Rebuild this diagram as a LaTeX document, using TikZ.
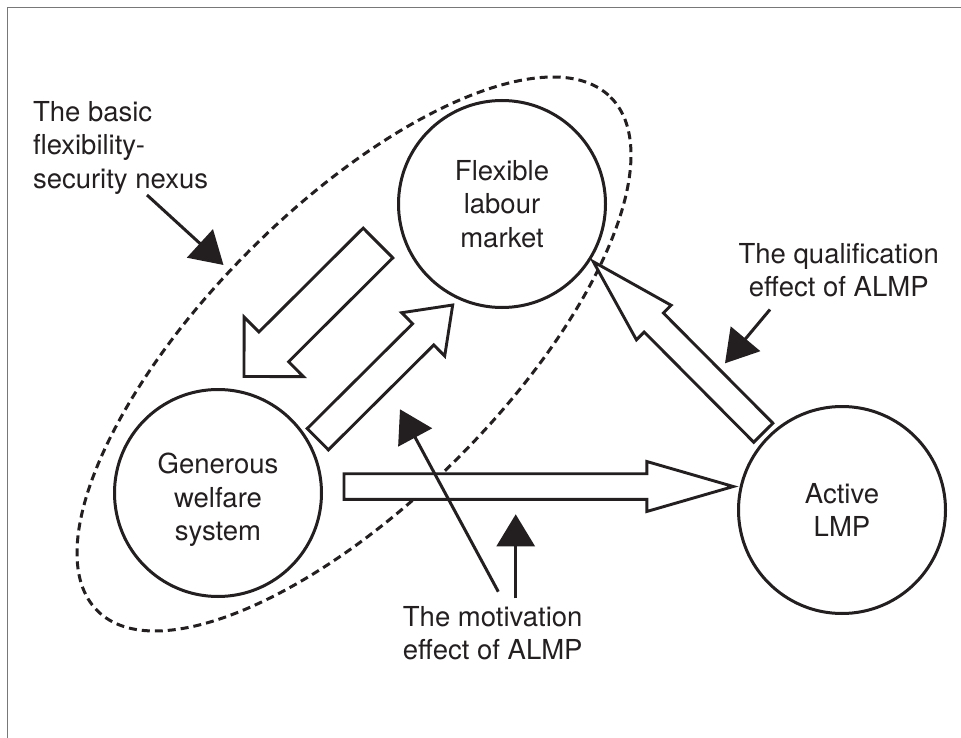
\documentclass[tikz,border=0pt]{standalone}
\usepackage{fontspec}
\setmainfont{TeX Gyre Heros}
\usetikzlibrary{calc,arrows.meta}
\definecolor{ink}{RGB}{35,31,32}
\definecolor{framegray}{RGB}{120,120,120}
% #1 tail coordinate, #2 tip coordinate, #3 shaft half width, #4 head half width, #5 head length
\newcommand{\blockarrow}[5]{%
  \coordinate (bahead) at ($(#2)!#5!(#1)$);
  \draw[blockarr] ($(#1)!#3!90:(#2)$) -- ($(bahead)!#3!90:(#2)$)
    -- ($(bahead)!#4!90:(#2)$) -- (#2) -- ($(bahead)!#4!-90:(#2)$)
    -- ($(bahead)!#3!-90:(#2)$) -- ($(#1)!#3!-90:(#2)$) -- cycle;}
\begin{document}
\begin{tikzpicture}[x=1pt,y=-1pt,
  font=\fontsize{27.5}{33.3}\selectfont,
  circ/.style={circle, draw=ink, fill=white, line width=3pt, minimum size=207pt,
    inner sep=0pt, outer sep=0pt, align=center, text=ink},
  txt/.style={inner sep=0pt, outer sep=0pt, text=ink},
  blockarr/.style={draw=ink, fill=white, line width=2.9pt, line join=miter},
  pointer/.style={draw=ink, line width=3pt, -{Triangle[length=32pt,width=38pt]}},
  nexus/.style={draw=ink, line width=3pt, dash pattern=on 8pt off 5pt},
  framestyle/.style={draw=framegray, line width=1.3pt}]
\useasboundingbox (0,0) rectangle (961,738);
% frame (top and left edges)
\draw[framestyle] (7.6,738) -- (7.6,7.4) -- (961,7.4);
% dashed nexus ellipse
\draw[nexus, rotate around={45:(354,354)}] (354,354) ellipse [x radius=363, y radius=147];
% circles
\node[circ] (flm) at (502,204) {Flexible\\labour\\market};
\node[circ] (gws) at (218,493) {\rule{0pt}{34.4pt}Generous\\welfare\\system};
\node[circ] (alm) at (842,510) {Active\\LMP};
% block arrows
\coordinate (a1s) at (378,243);     \coordinate (a1t) at (244,376.5);
\coordinate (a2s) at (317.8,439.2); \coordinate (a2t) at (452.7,305);
\coordinate (a3s) at (344,486.5);   \coordinate (a3t) at (733.3,486.5);
\coordinate (a4s) at (763.3,432.7); \coordinate (a4t) at (593.3,261.7);
\blockarrow{a1s}{a1t}{21pt}{42pt}{42pt}
\blockarrow{a2s}{a2t}{15pt}{30.5pt}{41.6pt}
\blockarrow{a3s}{a3t}{12.8pt}{25pt}{86.5pt}
\blockarrow{a4s}{a4t}{13.5pt}{24.5pt}{85.8pt}
% labels
\node[txt, anchor=west, align=left] (basic) at (33,147.9) {The basic\\flexibility-\\security nexus};
\node[txt, align=center] (qual) at (838.7,270) {The qualification\\effect of ALMP};
\node[txt, align=center] (motiv) at (492.7,633.3) {The motivation\\effect of ALMP};
% pointer arrows
\coordinate (pas) at (147,195);     \coordinate (pat) at (223.5,265);
\coordinate (pbs) at (770,309.5);   \coordinate (pbt) at (725,363.3);
\coordinate (pcs) at (498.3,591.7); \coordinate (pct) at (400,409.3);
\coordinate (pds) at (515.7,598.3); \coordinate (pdt) at (515.7,514.3);
\draw[pointer] (pas) -- (pat);
\draw[pointer] (pbs) -- (pbt);
\draw[pointer] (pcs) -- (pct);
\draw[pointer] (pds) -- (pdt);
\end{tikzpicture}
\end{document}
